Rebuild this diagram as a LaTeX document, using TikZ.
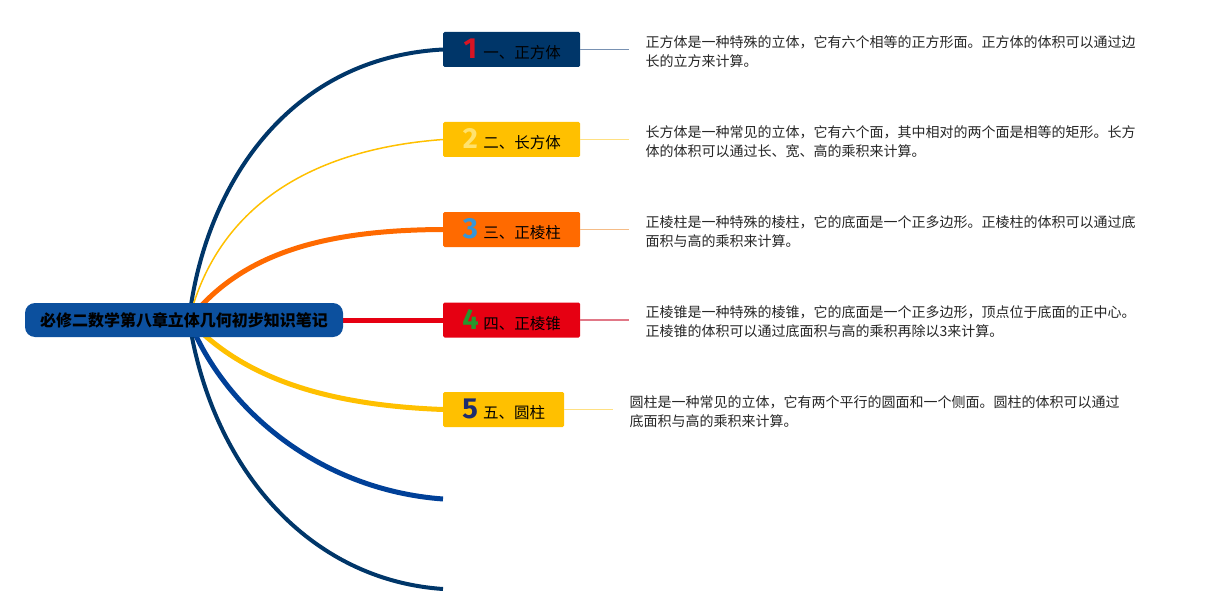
\documentclass[tikz,border=0pt]{standalone}
\usepackage{fontspec}
\setmainfont{Noto Sans CJK SC}
\newfontfamily\numfont{Fira Sans}
\usetikzlibrary{positioning,backgrounds}

\definecolor{navy}{RGB}{0,54,105}
\definecolor{rootblue}{RGB}{12,80,158}
\definecolor{gold}{RGB}{255,192,0}
\definecolor{tangerine}{RGB}{255,106,0}
\definecolor{signal}{RGB}{230,0,18}
\definecolor{cobalt}{RGB}{0,64,152}
\definecolor{numred}{RGB}{215,20,35}
\definecolor{numyellow}{RGB}{255,226,110}
\definecolor{numblue}{RGB}{55,150,215}
\definecolor{numgreen}{RGB}{40,150,45}
\definecolor{numnavy}{RGB}{30,45,110}
\definecolor{linenavy}{RGB}{120,145,178}
\definecolor{lineyellow}{RGB}{255,224,130}
\definecolor{lineorange}{RGB}{245,188,135}
\definecolor{linered}{RGB}{225,120,135}

\begin{document}
\begin{tikzpicture}[x=1pt, y=-1pt,
      rootbox/.style={fill=rootblue, rounded corners=10pt, minimum width=318pt,
        minimum height=34pt, inner sep=0pt, font=\fontsize{16}{16}\selectfont\bfseries},
      topic/.style={fill=#1, rounded corners=1.5pt, minimum height=35pt,
        inner sep=0pt, anchor=west, font=\fontsize{15.5}{16}\selectfont},
      desc/.style={anchor=west, align=left, inner sep=0pt, text=black!85,
        font=\fontsize{14}{19}\selectfont},
      branch/.style={draw=#1, line width=5pt}]
      \useasboundingbox (0,0) rectangle (1205,615);
      \node[rootbox] (root) at (184,320) {必修二数学第八章立体几何初步知识笔记};
      \coordinate (hub) at (189,320);
      \coordinate (end6) at (443,499);
      \coordinate (end7) at (443,589);
      \foreach \k/\y/\w/\fc/\nc/\lc/\lab/\desc in {%
        1/49.5/137/navy/numred/linenavy/{一、正方体}/{正方体是一种特殊的立体，它有六个相等的正方形面。正方体的体积可以通过边\\长的立方来计算。},
        2/139.5/137/gold/numyellow/lineyellow/{二、长方体}/{长方体是一种常见的立体，它有六个面，其中相对的两个面是相等的矩形。长方\\体的体积可以通过长、宽、高的乘积来计算。},
        3/229.5/137/tangerine/numblue/lineorange/{三、正棱柱}/{正棱柱是一种特殊的棱柱，它的底面是一个正多边形。正棱柱的体积可以通过底\\面积与高的乘积来计算。},
        4/320/137/signal/numgreen/linered/{四、正棱锥}/{正棱锥是一种特殊的棱锥，它的底面是一个正多边形，顶点位于底面的正中心。\\正棱锥的体积可以通过底面积与高的乘积再除以3来计算。},
        5/409.5/121/gold/numnavy/lineyellow/{五、圆柱}/{圆柱是一种常见的立体，它有两个平行的圆面和一个侧面。圆柱的体积可以通过\\底面积与高的乘积来计算。}} {%
        \node[topic=\fc, minimum width=\w pt] (t\k) at (443,\y)
          {\makebox[16pt]{\color{\nc}\numfont\bfseries\fontsize{29}{29}\selectfont\k}\hspace{5pt}\lab};
        \node[desc, right=65pt of t\k, yshift=-2pt] (d\k) {\desc};
        \draw[line width=1.6pt, draw=\lc] (t\k.east) -- ([xshift=-16pt]d\k.west |- t\k.east);
      }
      \begin{scope}[on background layer]
        \draw[branch=navy, line width=4pt] (hub) .. controls (204,190) and (285,58) .. (t1.west);
        \draw[branch=gold, line width=1.5pt] (hub) .. controls (215,215) and (300,150) .. (t2.west);
        \draw[branch=tangerine] (hub) .. controls (240,255) and (320,230) .. (t3.west);
        \draw[branch=signal] (root.east) -- (t4.west);
        \draw[branch=gold] (hub) .. controls (240,375) and (320,405) .. (t5.west);
        \draw[branch=cobalt] (hub) .. controls (225,410) and (320,490) .. (end6);
        \draw[branch=navy, line width=4pt] (hub) .. controls (212,470) and (310,580) .. (end7);
      \end{scope}
    \end{tikzpicture}
\end{document}
